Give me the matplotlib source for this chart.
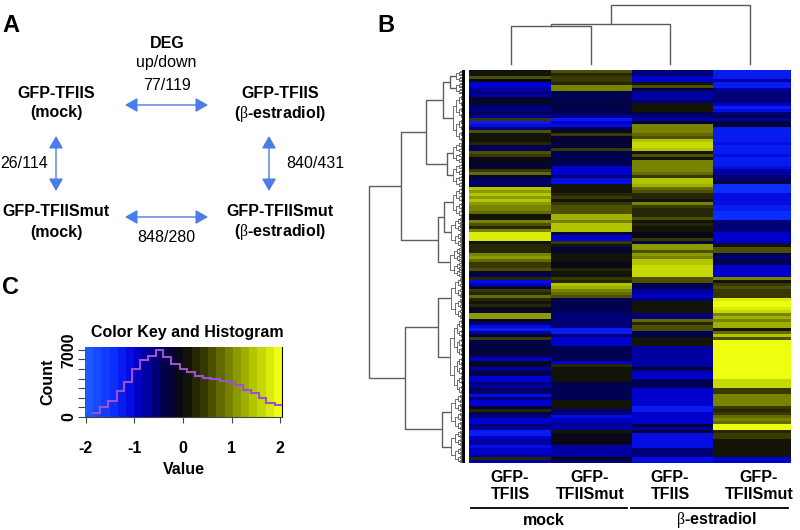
import numpy as np
import matplotlib
matplotlib.use("Agg")
import matplotlib.pyplot as plt
from matplotlib.collections import LineCollection
from matplotlib.colors import LinearSegmentedColormap

plt.rcParams['font.family'] = ['Liberation Sans', 'DejaVu Sans']
plt.rcParams['mathtext.fontset'] = 'custom'
plt.rcParams['mathtext.it'] = 'Liberation Serif'
plt.rcParams['mathtext.rm'] = 'Liberation Serif'

# ---------- data ----------
column_labels = ["GFP-\nTFIIS", "GFP-\nTFIISmut", "GFP-\nTFIIS", "GFP-\nTFIISmut"]
group_labels = ["mock", r"$\beta$-estradiol"]

col_mock_tfiis = [
    0.1, 0.1, 0.6, -0.1, -1.0, -1.0, -0.9, -0.6, -0.9, -0.3,
    -0.1, -0.5, -0.6, -0.6, -0.5, -0.8, 0.4, -1.5, -1.3, -0.7,
    0.6, 0.05, 0.05, 0.05, 0.2, -0.5, -0.4, 0.6, 0.4, -0.1,
    -0.1, -0.2, -0.3, 0.5, 0.8, -0.3, -0.5, -0.6, -0.4, 1.5,
    1.2, 1.5, 1.2, 1.6, 1.2, 1.0, 0.9, 0.8, 0.0, 0.0,
    0.9, 0.7, 0.2, 1.0, 1.8, 1.8, 1.8, 0.1, 0.3, 0.2,
    0.3, 1.0, 1.2, 0.8, 0.4, 0.5, 0.7, -0.3, -0.5, 0.2,
    -1.2, -1.1, -0.3, 0.5, 0.2, 0.8, 0.3, 0.0, 0.3, -0.1,
    -0.3, 1.1, 1.1, -0.3, -0.6, -1.2, -1.4, -0.9, -0.3, 0.5,
    -0.4, -0.3, -0.4, -0.3, -0.2, -0.7, -1.0, -0.1, -0.3, -0.9,
    -0.4, -0.4, -1.0, -1.0, -0.7, -0.9, -0.5, -0.6, -1.3, -0.7,
    -1.0, -1.1, -0.3, 0.3, -0.5, -0.6, -1.0, -1.0, -0.7, -0.9,
    -1.4, -1.4, -1.0, -0.9, -0.9, -1.3, -1.0, -1.0, -0.9, 0.2,
    -0.8]
col_mock_mut = [
    0.7, 0.2, 0.4, 0.4, 0.2, 0.9, 0.9, -0.5, -0.5, -0.5,
    -0.4, -0.2, -0.5, -0.5, -0.5, -0.9, -1.4, -1.0, -1.3, -0.4,
    -0.1, 0.4, -0.3, -0.3, -0.3, -0.3, 0.4, -0.4, -0.4, -0.5,
    -0.5, -0.5, -1.0, -1.0, -1.0, -0.7, -1.3, -1.3, 0.0, 0.05,
    0.05, 0.2, 0.5, 0.0, 0.5, 0.7, 0.7, 0.7, 1.4, 1.4,
    0.9, 1.6, 1.6, 1.6, -0.2, -1.0, -1.0, 0.4, 0.05, -0.2,
    -0.2, 0.1, 0.1, 0.1, -0.1, -0.1, 0.3, 0.05, 0.05, 0.5,
    0.3, 1.6, 1.4, 0.9, 0.8, 0.7, -0.4, -0.5, -0.5, -0.5,
    -0.5, -0.7, -0.7, -0.7, -0.7, -0.7, -1.5, -1.4, -0.7, -1.1,
    -1.1, -1.1, -0.5, -0.5, -0.5, -0.5, -0.5, -1.1, 0.3, 0.0,
    0.0, 0.0, 0.0, 0.0, -0.5, -0.5, -0.5, -0.5, -0.5, -0.5,
    0.0, 0.15, 0.1, -0.6, -0.6, -1.2, -1.0, -0.8, -0.8, -0.8,
    0.1, -0.1, -0.1, -0.05, -0.05, -0.9, -0.9, -0.9, -0.9, -0.1,
    -0.7]
col_estr_tfiis = [
    -0.7, -0.7, -1.0, -1.0, 0.05, 0.7, -0.2, -0.8, -0.8, -0.8,
    -0.6, 0.0, 0.0, 0.0, -0.5, -0.7, -0.9, -0.3, 1.0, 1.0,
    1.0, 0.8, 0.7, 1.6, 1.7, 1.7, 1.5, 0.1, 0.7, 0.1,
    0.9, 1.0, 1.0, 1.0, 0.8, 0.4, 1.6, 1.6, 1.3, 0.8,
    0.7, 0.3, 0.3, 0.1, 0.9, 0.5, 0.2, 0.2, 0.2, 0.7,
    0.1, 0.3, 0.0, 0.0, -0.1, -0.1, 0.5, -0.2, 1.1, 1.1,
    0.7, 1.2, 0.9, 1.6, 1.6, 1.7, 1.7, 1.7, 1.7, 0.7,
    0.7, -0.4, -0.4, -0.9, -0.9, -1.1, -0.6, 0.05, 0.05, 0.05,
    0.05, -0.7, -0.7, 0.8, 0.2, 0.6, 0.6, -0.5, -0.5, 0.05,
    0.05, 0.05, -0.8, -0.8, -0.8, -0.8, -0.8, -0.8, -0.8, -0.2,
    -0.9, -1.0, -1.0, -0.5, -0.4, -0.4, -1.1, -1.1, -1.0, -1.1,
    -1.1, -1.0, -1.4, -1.4, -1.0, -1.0, -1.0, -1.0, -0.2, -0.9,
    -0.3, -1.2, -1.2, -1.2, -1.2, -1.2, -0.6, -0.6, -0.6, -1.3,
    -1.3]
col_estr_mut = [
    -1.5, -1.5, -1.5, -0.8, -1.4, -1.4, -0.9, -0.7, -0.7, -0.7,
    -0.7, -1.1, -1.5, -1.2, -0.7, -0.5, -0.8, -0.3, -0.3, -1.5,
    -1.5, -1.4, -1.5, -1.5, -1.3, -1.5, -1.4, -1.5, -1.3, -1.4,
    -1.5, -1.4, -1.2, -0.8, -0.9, -0.7, -0.7, -0.2, -1.6, -1.6,
    -1.6, -1.3, -1.2, -1.2, -1.2, -1.4, -1.5, -1.6, -1.6, -1.6,
    -0.7, -0.7, -0.7, -0.7, -1.0, -1.0, -1.0, -0.9, 0.1, 0.6,
    0.6, -0.4, -0.6, -0.5, -0.5, -1.1, -1.1, -1.1, -1.1, 1.0,
    0.05, 0.5, 0.6, 0.4, 0.5, 0.4, 1.8, 1.9, 1.9, 1.8,
    1.7, 0.9, 1.4, 1.0, 1.3, 1.3, 0.1, 0.8, 1.5, 0.7,
    2.0, 2.0, 2.0, 2.0, 2.0, 2.0, 1.9, 2.0, 2.0, 2.0,
    1.9, 1.9, 1.9, 1.7, 1.7, 1.7, 0.5, 0.5, 0.9, 0.9,
    0.9, 0.9, 0.4, 0.2, 0.4, 0.8, 0.9, 0.8, 1.9, 1.9,
    0.3, 0.4, 0.4, 0.0, 0.0, 0.0, 0.1, 0.1, 0.1, -1.0,
    -1.0]

# column tree heights: (left leaf, right leaf, height) in merge order
col_merges = [(0, 1, 38), (None, 2, 40), (None, 3, 59)]

# row tree: (height, child, child); a leaf block is [first row, end row, height]
row_tree = (96,
    (64,
        (39,
            (22, (15, [0, 4, 9], [4, 8, 9]), [8, 24, 12]),
            (18, [24, 31, 12], [31, 39, 12])),
        (27,
            (21, [39, 49, 12], [49, 59, 14]),
            [59, 69, 15])),
    (60,
        (27, [69, 83, 14], [83, 108, 15]),
        (23, [108, 120, 14], [120, 131, 14])))

hist_edges = [-1.88, -1.71, -1.54, -1.37, -1.21, -1.05, -0.88, -0.73, -0.56, -0.41,
              -0.24, -0.07, 0.09, 0.25, 0.41, 0.58, 0.76, 0.93, 1.08, 1.24,
              1.41, 1.57, 1.72, 1.89, 2.03]
hist_counts = [380, 1000, 1700, 2750, 3700, 5050, 5950, 6400, 7000, 6250, 5500, 5050,
               4650, 4300, 4100, 3950, 3750, 3600, 3300, 2800, 2550, 1950, 1450, 1250]
key_levels = 24

W, H = 800, 530
fig = plt.figure(figsize=(W / 100, H / 100), dpi=100, facecolor='white')


def axes_px(x0, y0, x1, y1, **kw):
    return fig.add_axes([x0 / W, 1 - y1 / H, (x1 - x0) / W, (y1 - y0) / H], **kw)


cmap = LinearSegmentedColormap.from_list('bky', [
    (0.000, '#1f58ff'), (0.125, '#0c30ff'), (0.250, '#0000d8'), (0.375, '#00005c'),
    (0.500, '#0a0a0a'), (0.625, '#3e4000'), (0.750, '#7d8a00'), (0.875, '#b4c800'),
    (1.000, '#eeff10')], N=key_levels)

# ---------- heatmap ----------
ax_heat = axes_px(469, 70, 791, 463)
matrix = np.array([col_mock_tfiis, col_mock_mut, col_estr_tfiis, col_estr_mut]).T
# my colour readings ran brighter than the key, so they are pulled back a little
shown = np.where(matrix < 0, matrix * 0.85, np.where(matrix < 1.85, matrix * 0.93, 2.0))
col_edges = [469, 551, 632, 713, 791]
ax_heat.pcolormesh(col_edges, np.arange(matrix.shape[0] + 1), shown, cmap=cmap, vmin=-2, vmax=2)
ax_heat.set_xlim(469, 791)
ax_heat.set_ylim(matrix.shape[0], 0)
ax_heat.set_yticks([])
ax_heat.set_xticks([510, 590, 670, 759])
ax_heat.set_xticklabels(column_labels, fontsize=11.5, fontweight='bold', linespacing=1.15)
ax_heat.tick_params(axis='x', length=0, pad=5)
for s in ax_heat.spines.values():
    s.set_visible(False)

# ---------- column dendrogram ----------
ax_top = axes_px(471, 5, 790, 64)
ax_top.set_xlim(-0.5, 3.5)
ax_top.set_ylim(0, 59)
ax_top.axis('off')
state_x, state_h = None, 0
for a, b, h in col_merges:
    xa, ha = (float(a), 0) if a is not None else (state_x, state_h)
    xb, hb = float(b), 0
    ax_top.plot([xa, xa, xb, xb], [ha, h, h, hb], color='#5a5a5a', lw=1.0, clip_on=False)
    state_x, state_h = (xa + xb) / 2, h

# ---------- row dendrogram ----------
ax_left = axes_px(368, 70, 465, 463)
ax_left.set_xlim(97, 0)
ax_left.set_ylim(131, 0)
ax_left.axis('off')
main_segs, fine_segs = [], []


def fuzz(lo, hi, h):
    if hi - lo < 0.34:
        return (lo + hi) / 2, 0
    mid = (lo + hi) / 2
    sub = h * 0.72
    ca, ha = fuzz(lo, mid, sub)
    cb, hb = fuzz(mid, hi, sub)
    fine_segs.append([(ha, ca), (h, ca), (h, cb), (hb, cb)])
    return (ca + cb) / 2, h


def walk(node):
    if isinstance(node, list):
        return fuzz(node[0], node[1], node[2])
    h, a, b = node
    ca, ha = walk(a)
    cb, hb = walk(b)
    main_segs.append([(ha, ca), (h, ca), (h, cb), (hb, cb)])
    return (ca + cb) / 2, h


walk(row_tree)
ax_left.add_collection(LineCollection(fine_segs, colors='#4a4a4a', linewidths=0.55))
ax_left.add_collection(LineCollection(main_segs, colors='#5e5e5e', linewidths=1.0))
ax_left.plot([1.5, 1.5], [0, 131], color='black', lw=2.6, solid_capstyle='butt')

# ---------- colour key ----------
ax_key = axes_px(85, 347, 282, 417)
ax_key.set_xlim(-2.02, 2.04)
ax_key.set_ylim(0, 7300)
ax_key.imshow(np.linspace(-2, 2, key_levels)[None, :], cmap=cmap, vmin=-2, vmax=2,
              aspect='auto', extent=(-2.02, 2.04, 0, 7300), interpolation='nearest')
ax_key.stairs(hist_counts, hist_edges, baseline=None, color='#9a52d2', lw=1.5)
ax_key.set_xticks([-2, -1, 0, 1, 2])
ax_key.set_xticklabels(['-2', '-1', '0', '1', '2'], fontsize=11.5, fontweight='bold')
ax_key.set_yticks([0, 1000, 2000, 3000, 4000, 5000, 6000, 7000])
ax_key.set_yticklabels(['0', '', '', '', '', '', '', '7000'], fontsize=11.5, fontweight='bold',
                       rotation=90, va='center')
ax_key.tick_params(axis='x', length=4.3, width=0.8, color='#444444', pad=13)
ax_key.tick_params(axis='y', length=5.2, width=0.8, color='#444444', pad=1)
ax_key.set_xlabel('Value', fontsize=11.5, fontweight='bold', labelpad=4)
ax_key.set_ylabel('Count', fontsize=11.5, fontweight='bold', labelpad=4)
ax_key.set_title('Color Key and Histogram', fontsize=11.5, fontweight='bold', pad=7, x=0.52)
for name in ('top', 'left'):
    ax_key.spines[name].set_visible(False)
ax_key.spines['right'].set_color('black')
ax_key.spines['bottom'].set_color('#444444')

# ---------- overlay: panel A, labels, group bars ----------
ov = axes_px(0, 0, W, H)
ov.set_xlim(0, W)
ov.set_ylim(H, 0)
ov.axis('off')
ov.patch.set_alpha(0)


def txt(x, y, s, weight='bold', size=11.5, ha='center'):
    ov.text(x, y, s, fontsize=size, fontweight=weight, ha=ha, va='center')


for x, y, s in [(2, 26, 'A'), (377, 26, 'B'), (2, 287, 'C')]:
    txt(x, y, s, size=17, ha='left')
txt(167, 44, 'DEG')
txt(166, 63, 'up/down', weight='normal')
txt(167, 85, '77/119', weight='normal')
txt(56, 94, 'GFP-TFIIS')
txt(56, 113, '(mock)')
txt(280, 94, 'GFP-TFIIS')
txt(280, 114, r'($\beta$-estradiol)')
txt(48, 164, '26/114', weight='normal', ha='right')
txt(315, 164, '840/431', weight='normal')
txt(56, 212, 'GFP-TFIISmut')
txt(56, 232, '(mock)')
txt(280, 212, 'GFP-TFIISmut')
txt(280, 232, r'($\beta$-estradiol)')
txt(166, 238, '848/280', weight='normal')

arrow_color = '#4a7de8'
for p0, p1 in [((125, 105), (208, 105)), ((125, 217), (208, 217)),
               ((56, 136), (56, 191)), ((269, 136), (269, 191))]:
    ov.annotate('', xy=p1, xytext=p0,
                arrowprops=dict(arrowstyle='<|-|>,head_length=0.47,head_width=0.27', mutation_scale=16,
                                color=arrow_color, lw=1.0, shrinkA=0, shrinkB=0))

ov.plot([471, 627], [508, 508], color='black', lw=1.3)
ov.plot([631, 788], [508, 508], color='black', lw=1.3)
txt(544, 520.5, group_labels[0])
txt(717, 520.5, group_labels[1])

fig.savefig('out.png', dpi=100, facecolor='white')
